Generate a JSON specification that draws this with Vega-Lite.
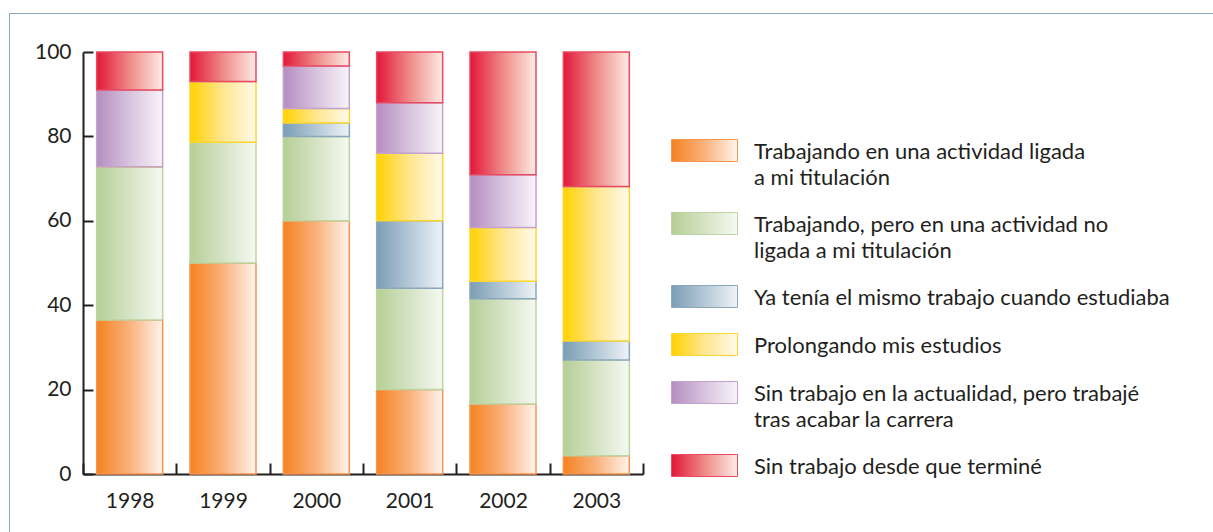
{
  "$schema": "https://vega.github.io/schema/vega-lite/v6.json",
  "width": 560,
  "height": 422,
  "autosize": {"type": "none"},
  "padding": {"left": 83, "top": 52, "right": 570, "bottom": 58},
  "background": "#ffffff",
  "config": {
    "view": {"stroke": null},
    "axis": {"labelFont": "Lato, sans-serif", "labelFontSize": 21, "labelColor": "#231f20", "domainColor": "#231f20", "domainWidth": 2, "tickColor": "#231f20", "tickWidth": 2, "grid": false, "title": null, "zindex": 1}
  },
  "data": {
    "values": [
      {"year": "1998", "k": 1, "cat": "Trabajando en una actividad ligada a mi titulación", "value": 36.5},
      {"year": "1998", "k": 2, "cat": "Trabajando, pero en una actividad no ligada a mi titulación", "value": 36.3},
      {"year": "1998", "k": 3, "cat": "Ya tenía el mismo trabajo cuando estudiaba", "value": 0},
      {"year": "1998", "k": 4, "cat": "Prolongando mis estudios", "value": 0},
      {"year": "1998", "k": 5, "cat": "Sin trabajo en la actualidad, pero trabajé tras acabar la carrera", "value": 18.2},
      {"year": "1998", "k": 6, "cat": "Sin trabajo desde que terminé", "value": 9.0},
      {"year": "1999", "k": 1, "cat": "Trabajando en una actividad ligada a mi titulación", "value": 50.0},
      {"year": "1999", "k": 2, "cat": "Trabajando, pero en una actividad no ligada a mi titulación", "value": 28.6},
      {"year": "1999", "k": 3, "cat": "Ya tenía el mismo trabajo cuando estudiaba", "value": 0},
      {"year": "1999", "k": 4, "cat": "Prolongando mis estudios", "value": 14.4},
      {"year": "1999", "k": 5, "cat": "Sin trabajo en la actualidad, pero trabajé tras acabar la carrera", "value": 0},
      {"year": "1999", "k": 6, "cat": "Sin trabajo desde que terminé", "value": 7.0},
      {"year": "2000", "k": 1, "cat": "Trabajando en una actividad ligada a mi titulación", "value": 60.0},
      {"year": "2000", "k": 2, "cat": "Trabajando, pero en una actividad no ligada a mi titulación", "value": 20.0},
      {"year": "2000", "k": 3, "cat": "Ya tenía el mismo trabajo cuando estudiaba", "value": 3.2},
      {"year": "2000", "k": 4, "cat": "Prolongando mis estudios", "value": 3.4},
      {"year": "2000", "k": 5, "cat": "Sin trabajo en la actualidad, pero trabajé tras acabar la carrera", "value": 10.1},
      {"year": "2000", "k": 6, "cat": "Sin trabajo desde que terminé", "value": 3.3},
      {"year": "2001", "k": 1, "cat": "Trabajando en una actividad ligada a mi titulación", "value": 20.0},
      {"year": "2001", "k": 2, "cat": "Trabajando, pero en una actividad no ligada a mi titulación", "value": 24.0},
      {"year": "2001", "k": 3, "cat": "Ya tenía el mismo trabajo cuando estudiaba", "value": 16.0},
      {"year": "2001", "k": 4, "cat": "Prolongando mis estudios", "value": 16.0},
      {"year": "2001", "k": 5, "cat": "Sin trabajo en la actualidad, pero trabajé tras acabar la carrera", "value": 12.0},
      {"year": "2001", "k": 6, "cat": "Sin trabajo desde que terminé", "value": 12.0},
      {"year": "2002", "k": 1, "cat": "Trabajando en una actividad ligada a mi titulación", "value": 16.6},
      {"year": "2002", "k": 2, "cat": "Trabajando, pero en una actividad no ligada a mi titulación", "value": 24.9},
      {"year": "2002", "k": 3, "cat": "Ya tenía el mismo trabajo cuando estudiaba", "value": 4.2},
      {"year": "2002", "k": 4, "cat": "Prolongando mis estudios", "value": 12.7},
      {"year": "2002", "k": 5, "cat": "Sin trabajo en la actualidad, pero trabajé tras acabar la carrera", "value": 12.5},
      {"year": "2002", "k": 6, "cat": "Sin trabajo desde que terminé", "value": 29.1},
      {"year": "2003", "k": 1, "cat": "Trabajando en una actividad ligada a mi titulación", "value": 4.3},
      {"year": "2003", "k": 2, "cat": "Trabajando, pero en una actividad no ligada a mi titulación", "value": 22.7},
      {"year": "2003", "k": 3, "cat": "Ya tenía el mismo trabajo cuando estudiaba", "value": 4.5},
      {"year": "2003", "k": 4, "cat": "Prolongando mis estudios", "value": 36.6},
      {"year": "2003", "k": 5, "cat": "Sin trabajo en la actualidad, pero trabajé tras acabar la carrera", "value": 0},
      {"year": "2003", "k": 6, "cat": "Sin trabajo desde que terminé", "value": 31.9}
    ]
  },
  "mark": {"type": "bar", "strokeWidth": 1.5, "width": {"band": 0.707}},
  "encoding": {
    "x": {
      "field": "year", "type": "ordinal",
      "scale": {"paddingInner": 0, "paddingOuter": 0},
      "axis": {"labelAngle": 0, "tickBand": "extent", "tickSize": -11, "labelPadding": 27, "labelBaseline": "top"}
    },
    "y": {
      "field": "value", "type": "quantitative", "stack": "zero",
      "scale": {"domain": [0, 100], "nice": false},
      "axis": {"values": [0, 20, 40, 60, 80, 100], "tickSize": -10, "labelPadding": 22}
    },
    "order": {"field": "k", "type": "quantitative", "sort": "ascending"},
    "fill": {
      "field": "cat", "type": "nominal",
      "scale": {
        "domain": [
          "Trabajando en una actividad ligada a mi titulación",
          "Trabajando, pero en una actividad no ligada a mi titulación",
          "Ya tenía el mismo trabajo cuando estudiaba",
          "Prolongando mis estudios",
          "Sin trabajo en la actualidad, pero trabajé tras acabar la carrera",
          "Sin trabajo desde que terminé"
        ],
        "range": [
          {"expr": "{gradient: 'linear', x1: 0, y1: 0, x2: 1, y2: 0, stops: [{offset: 0, color: '#f58220'}, {offset: 0.5, color: '#f9b27c'}, {offset: 1, color: '#fff4ec'}]}"},
          {"expr": "{gradient: 'linear', x1: 0, y1: 0, x2: 1, y2: 0, stops: [{offset: 0, color: '#b5cf96'}, {offset: 0.5, color: '#d5e3c4'}, {offset: 1, color: '#f6f9f2'}]}"},
          {"expr": "{gradient: 'linear', x1: 0, y1: 0, x2: 1, y2: 0, stops: [{offset: 0, color: '#7b9db4'}, {offset: 0.5, color: '#b4c8d6'}, {offset: 1, color: '#eef3f8'}]}"},
          {"expr": "{gradient: 'linear', x1: 0, y1: 0, x2: 1, y2: 0, stops: [{offset: 0, color: '#ffd200'}, {offset: 0.5, color: '#ffe690'}, {offset: 1, color: '#fffaea'}]}"},
          {"expr": "{gradient: 'linear', x1: 0, y1: 0, x2: 1, y2: 0, stops: [{offset: 0, color: '#b48dc0'}, {offset: 0.5, color: '#d8c3de'}, {offset: 1, color: '#f8f3f9'}]}"},
          {"expr": "{gradient: 'linear', x1: 0, y1: 0, x2: 1, y2: 0, stops: [{offset: 0, color: '#e2173a'}, {offset: 0.5, color: '#ef8a87'}, {offset: 1, color: '#fdece5'}]}"}
        ]
      },
      "legend": {
        "orient": "none", "legendX": 588, "legendY": 65,
        "title": null,
        "symbolType": "M-1,-0.3333H1V0.3333H-1Z",
        "symbolSize": 4356,
        "symbolStrokeWidth": 1,
        "labelFont": "Lato, sans-serif",
        "labelFontSize": 22,
        "labelColor": "#231f20",
        "labelLimit": 600,
        "labelOffset": 16,
        "labelBaseline": "top",
        "rowPadding": 1,
        "labelExpr": "datum.label == 'Trabajando en una actividad ligada a mi titulación' ? ['Trabajando en una actividad ligada', '\u00a0a mi titulación'] : datum.label == 'Trabajando, pero en una actividad no ligada a mi titulación' ? ['Trabajando, pero en una actividad no', 'ligada a mi titulación'] : datum.label == 'Sin trabajo en la actualidad, pero trabajé tras acabar la carrera' ? ['Sin trabajo en la actualidad, pero trabajé', 'tras acabar la carrera'] : datum.label",
        "encode": {
          "labels": {"update": {"dy": {"value": -9}, "lineHeight": {"value": 26}}},
          "symbols": {"update": {"stroke": {"scale": "stroke", "field": "value"}}}
        }
      }
    },
    "stroke": {
      "field": "cat", "type": "nominal",
      "scale": {
        "domain": [
          "Sin trabajo desde que terminé",
          "Sin trabajo en la actualidad, pero trabajé tras acabar la carrera",
          "Prolongando mis estudios",
          "Ya tenía el mismo trabajo cuando estudiaba",
          "Trabajando, pero en una actividad no ligada a mi titulación",
          "Trabajando en una actividad ligada a mi titulación"
        ],
        "range": ["#e84a62", "#c3a2cd", "#ffd630", "#8aa8bd", "#bcd4a2", "#f79450"]
      },
      "legend": {
        "orient": "none", "legendX": -74, "legendY": -39,
        "title": null,
        "padding": 600,
        "strokeColor": "#8fa9bb",
        "symbolSize": 1,
        "symbolOpacity": 0,
        "labelExpr": "''",
        "labelOpacity": 0,
        "labelFontSize": 1,
        "encode": {
          "legend": {"update": {"strokeWidth": {"value": 2}}}
        }
      }
    }
  }
}
